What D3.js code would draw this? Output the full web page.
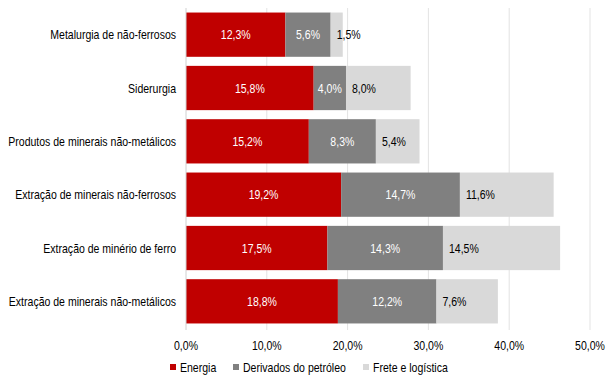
<!DOCTYPE html>
<html><head><meta charset="utf-8">
<script src="https://cdn.jsdelivr.net/npm/d3@7"></script>
<style>
html,body{margin:0;padding:0;background:#fff;}
text{font-family:"Liberation Sans Narrow","Arial Narrow","Liberation Sans",Arial,sans-serif;}
</style></head>
<body>
<svg id="chart" width="612" height="381"></svg>
<script>
const categories = ["Metalurgia de não-ferrosos","Siderurgia","Produtos de minerais não-metálicos","Extração de minerais não-ferrosos","Extração de minério de ferro","Extração de minerais não-metálicos"];
const seriesNames = ["Energia","Derivados do petróleo","Frete e logística"];
const energia = [12.3,15.8,15.2,19.2,17.5,18.8];
const derivados = [5.6,4.0,8.3,14.7,14.3,12.2];
const frete = [1.5,8.0,5.4,11.6,14.5,7.6];
const xTicks = [0,10,20,30,40,50];
const colors = ["#C00000","#808080","#D9D9D9"];
const labelColors = ["#ffffff","#ffffff","#000000"];

const SX = 0.81; // condensed look
const FS = 13;
const svg = d3.select("#chart");
const pLeft = 186, pRight = 590, pTop = 8, pBottom = 328;
const x = d3.scaleLinear().domain([0,50]).range([pLeft,pRight]);
const y = d3.scaleBand().domain(categories).range([pTop,pBottom]).paddingInner(0.17).paddingOuter(0.085);

// gridlines
svg.append("g").selectAll("line").data(xTicks.slice(1)).join("line")
  .attr("x1",d=>x(d)).attr("x2",d=>x(d)).attr("y1",pTop).attr("y2",pBottom+2)
  .attr("stroke","#E3E3E3").attr("stroke-width",1);

const series = [energia,derivados,frete];
const rows = categories.map((c,i)=>{
  let acc=0;
  return series.map((s,k)=>{const o={cat:c,k:k,v:s[i],x0:acc,x1:acc+s[i]}; acc+=s[i]; return o;});
});
const segs = rows.flat();

svg.append("g").selectAll("rect").data(segs).join("rect")
  .attr("x",d=>x(d.x0)).attr("width",d=>x(d.x1)-x(d.x0))
  .attr("y",d=>y(d.cat)).attr("height",y.bandwidth())
  .attr("fill",d=>colors[d.k]);

const fmt = v => v.toFixed(1).replace(".",",")+"%";
const tr = (px,py) => `translate(${px},${py}) scale(${SX},1)`;

svg.append("g").selectAll("text").data(segs).join("text")
  .attr("transform",d=>tr(d.k<2 ? (x(d.x0)+x(d.x1))/2 : x(d.x0)+6, y(d.cat)+y.bandwidth()/2))
  .attr("dy","0.35em")
  .attr("text-anchor",d=>d.k<2?"middle":"start")
  .attr("font-size",FS)
  .attr("fill",d=>labelColors[d.k])
  .text(d=>fmt(d.v));

// category axis
svg.append("line").attr("x1",pLeft).attr("x2",pLeft).attr("y1",pTop).attr("y2",pBottom+2)
  .attr("stroke","#D0D0D0");
svg.append("g").selectAll("text").data(categories).join("text")
  .attr("transform",d=>tr(pLeft-10, y(d)+y.bandwidth()/2)).attr("dy","0.35em")
  .attr("text-anchor","end").attr("font-size",FS).attr("fill","#000").text(d=>d);

// x tick labels
svg.append("g").selectAll("text").data(xTicks).join("text")
  .attr("transform",d=>tr(x(d),345)).attr("dy","0.35em")
  .attr("text-anchor","middle").attr("font-size",FS).attr("fill","#000")
  .text(d=>d.toFixed(1).replace(".",",")+"%");

// legend
const legX = [170,233,363];
const lg = svg.append("g").selectAll("g").data(seriesNames).join("g")
  .attr("transform",(d,i)=>`translate(${legX[i]},367)`);
lg.append("rect").attr("x",0).attr("y",-3).attr("width",6).attr("height",6).attr("fill",(d,i)=>colors[i]);
lg.append("text").attr("transform",tr(10,0)).attr("dy","0.35em").attr("font-size",FS).attr("fill","#000").text(d=>d);
</script>
</body></html>
